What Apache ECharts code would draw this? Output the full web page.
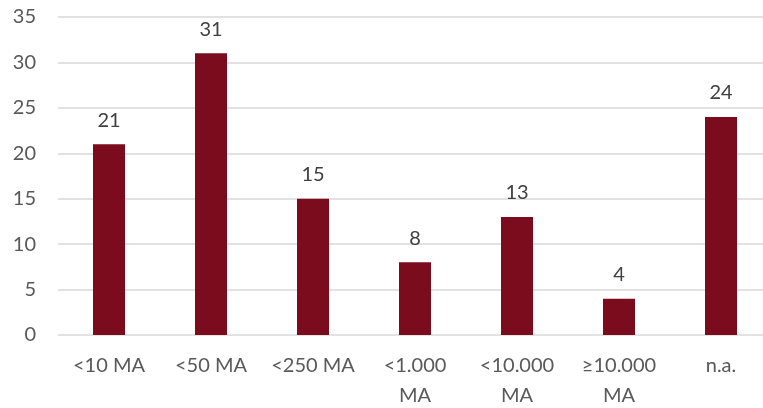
<!DOCTYPE html>
<html>
<head>
    <meta charset="utf-8">
    <title>ECharts</title>
    <script src="https://cdn.jsdelivr.net/npm/echarts@6/dist/echarts.min.js"></script>
    <style>
        html, body { margin: 0; padding: 0; background: #fff; }
    </style>
</head>
<body>
    <div id="main" style="width: 763px;height:408px;"></div>
    <script>
        var categories = ['<10 MA', '<50 MA', '<250 MA', '<1.000\nMA', '<10.000\nMA', '\u226510.000\nMA', 'n.a.'];
        var values = [21, 31, 15, 8, 13, 4, 24];

        var myChart = echarts.init(document.getElementById('main'));
        var textColor = '#595959';
        var font = 'Lato, "Open Sans", sans-serif';

        var option = {
            backgroundColor: '#fff',
            animation: false,
            grid: {
                left: 58,
                top: 17,
                width: 714,
                height: 318,
                outerBoundsMode: 'none',
                containLabel: false
            },
            xAxis: {
                type: 'category',
                data: categories,
                axisLine: { show: false },
                axisTick: { show: false },
                axisLabel: {
                    color: textColor,
                    fontFamily: font,
                    fontSize: 20,
                    lineHeight: 30,
                    margin: 16,
                    interval: 0,
                    verticalAlign: 'top'
                }
            },
            yAxis: {
                type: 'value',
                min: 0,
                max: 35,
                interval: 5,
                axisLine: { show: false },
                axisTick: { show: false },
                splitLine: { lineStyle: { color: '#d9d9d9', width: 1.5 } },
                axisLabel: {
                    color: textColor,
                    fontFamily: font,
                    fontSize: 20,
                    margin: 22
                }
            },
            series: [{
                type: 'bar',
                data: values,
                barWidth: 32,
                itemStyle: { color: '#7b0c1e' },
                label: {
                    show: true,
                    position: 'top',
                    distance: 14,
                    color: '#404040',
                    fontFamily: font,
                    fontSize: 20
                }
            }]
        };
        myChart.setOption(option);
    </script>
</body>
</html>
